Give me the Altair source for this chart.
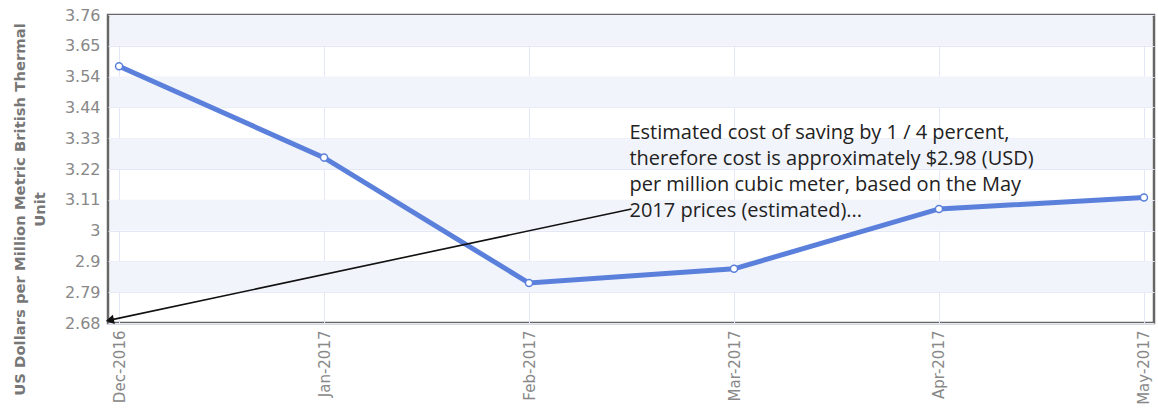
import altair as alt
import pandas as pd

# ---- data ----
months = ["Dec-2016", "Jan-2017", "Feb-2017", "Mar-2017", "Apr-2017", "May-2017"]
prices = [3.58, 3.26, 2.82, 2.87, 3.08, 3.12]
tick_values = [2.68, 2.788, 2.896, 3.004, 3.112, 3.22, 3.328, 3.436, 3.544, 3.652, 3.76]
annotation_lines = [
    "Estimated cost of saving by 1 / 4 percent,",
    "therefore cost is approximately $2.98 (USD)",
    "per million cubic meter, based on the May",
    "2017 prices (estimated)...",
]
y_title = ["US Dollars per Million Metric British Thermal", "Unit"]

# ---- tables built from the arrays ----
df = pd.DataFrame({"idx": list(range(len(months))), "month": months, "price": prices})
bands = pd.DataFrame({
    "lo": [tick_values[i] for i in range(1, len(tick_values) - 1, 2)],
    "hi": [tick_values[i + 1] for i in range(1, len(tick_values) - 1, 2)],
})
# annotation anchor (data coords)
arrow = pd.DataFrame({"x1": [2.5], "y1": [3.08], "x2": [-0.045], "y2": [2.69]})
note = pd.DataFrame({"x": [2.49], "y": [3.38], "text": [annotation_lines]})

x_dom = [-0.054, 5.049]
y_dom = [tick_values[0], tick_values[-1]]
label_expr = "[" + ",".join(f"'{m}'" for m in months) + "][datum.value]"

xs = alt.Scale(domain=x_dom, nice=False, zero=False)
ys = alt.Scale(domain=y_dom, nice=False, zero=False)

x_axis = alt.Axis(values=list(range(len(months))), labelExpr=label_expr,
                  labelAngle=-90, labelAlign="right", labelBaseline="middle",
                  labelPadding=7, labelFontSize=15, labelFont="DejaVu Sans",
                  labelColor="#888888", ticks=False, domain=False,
                  labelOverlap=False, labelFlush=False,
                  grid=True, gridColor="#e4e8f6", gridWidth=1, title=None)
y_axis = alt.Axis(values=tick_values, labelExpr="format(datum.value, '.2~f')",
                  labelFontSize=16, labelFont="DejaVu Sans", labelColor="#888888",
                  labelPadding=8, ticks=False, domain=False,
                  labelOverlap=False, labelFlush=False,
                  grid=True, gridColor="#e4e8f6", gridWidth=1,
                  title=y_title, titleFont="DejaVu Sans", titleFontSize=14.8,
                  titleFontWeight="bold", titleColor="#777777",
                  titleAngle=-90, titleAlign="center", titleBaseline="middle",
                  titleX=-88, titleY=194, titleLineHeight=20)

base = alt.Chart(df)

band_layer = alt.Chart(bands).mark_rect(color="#f2f4fb").encode(
    x=alt.value(2), x2=alt.value(1044),
    y=alt.Y("lo:Q", scale=ys, axis=y_axis), y2="hi:Q",
)

line = base.mark_line(color="#5b80dc", strokeWidth=5).encode(
    x=alt.X("idx:Q", scale=xs, axis=x_axis),
    y=alt.Y("price:Q", scale=ys, axis=y_axis),
)

points = base.mark_point(filled=True, fill="white", stroke="#5b80dc",
                         strokeWidth=1.5, size=50, opacity=1).encode(
    x=alt.X("idx:Q", scale=xs, axis=x_axis), y=alt.Y("price:Q", scale=ys, axis=y_axis),
)

arrow_line = alt.Chart(arrow).mark_rule(color="#111111", strokeWidth=1.6).encode(
    x=alt.X("x1:Q", scale=xs, axis=x_axis), y=alt.Y("y1:Q", scale=ys, axis=y_axis),
    x2="x2:Q", y2="y2:Q",
)
arrow_head = alt.Chart(arrow).mark_point(shape="triangle-up", filled=True, color="#111111",
                                         size=90, angle=258, opacity=1).encode(
    x=alt.X("x2:Q", scale=xs, axis=x_axis), y=alt.Y("y2:Q", scale=ys, axis=y_axis),
)

note_text = alt.Chart(note).mark_text(align="left", baseline="top", font="Open Sans",
                                      fontSize=20, lineHeight=26, color="#222222").encode(
    x=alt.X("x:Q", scale=xs, axis=x_axis), y=alt.Y("y:Q", scale=ys, axis=y_axis), text="text",
)

chart = alt.layer(band_layer, line, points, arrow_line, arrow_head, note_text).properties(
    width=1046, height=308,
    autosize=alt.AutoSizeParams(type="none"),
    padding={"left": 108, "top": 15, "right": 4, "bottom": 85},
).configure(background="white").configure_axis(labelOverlap=False).configure_view(
    stroke="#666666", strokeWidth=2.5)

chart.save("out.html", embed_options={"renderer": "svg", "actions": False})
